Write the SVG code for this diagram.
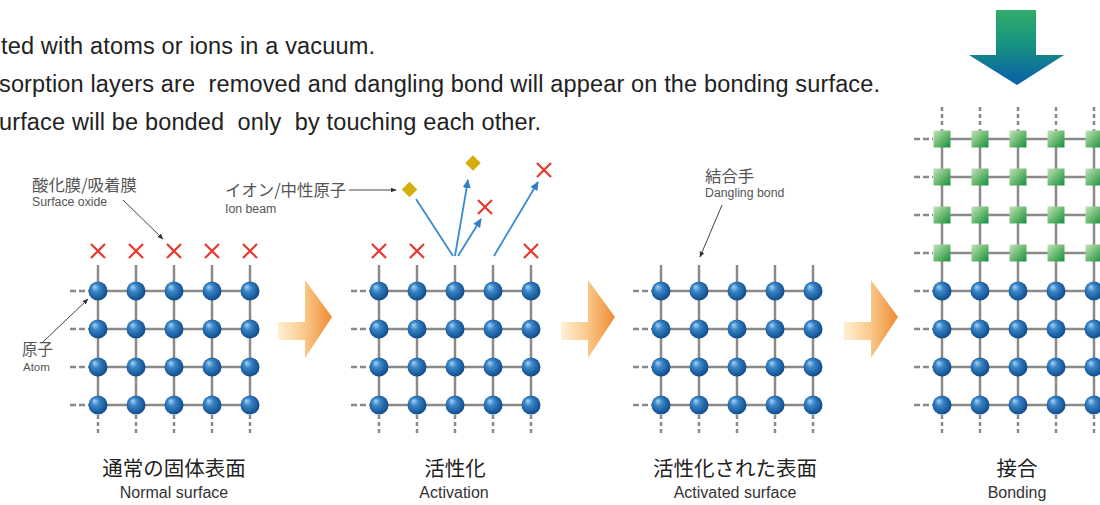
<svg xmlns="http://www.w3.org/2000/svg" xmlns:xlink="http://www.w3.org/1999/xlink" width="1100" height="505" viewBox="0 0 1100 505">
  <style>
    .lead { font-family: "Liberation Sans", Arial, sans-serif; font-size: 23.5px; fill: #222; white-space: pre; }
    .jp { font-family: "Noto Sans CJK JP", sans-serif; fill: #555; }
    .en { font-family: "Liberation Sans", Arial, sans-serif; fill: #555; }
    .cap-jp { font-family: "Noto Sans CJK JP", sans-serif; font-size: 20.5px; fill: #222; text-anchor: middle; }
    .cap-en { font-family: "Liberation Sans", Arial, sans-serif; font-size: 16px; fill: #333; text-anchor: middle; }
    .bond { stroke: #8a8a8a; stroke-width: 2.5; fill: none; }
    .dash-h { stroke: #8a8a8a; stroke-width: 2.5; fill: none; stroke-dasharray: 6 3; }
    .dash-v { stroke: #8a8a8a; stroke-width: 2.5; fill: none; stroke-dasharray: 4 3; }
    .cross { stroke: #e8382f; stroke-width: 2.2; fill: none; }
    .pointer { stroke: #444; stroke-width: 1; fill: none; marker-end: url(#tip-dark); }
    .beam { stroke: #3a8ad2; stroke-width: 1.8; fill: none; }
    .beam-out { stroke: #3a8ad2; stroke-width: 1.8; fill: none; marker-end: url(#tip-blue); }
  </style>
  <defs>
    <radialGradient id="atom-shade" cx="45%" cy="45%" r="60%" fx="32%" fy="28%">
      <stop offset="0" stop-color="#a9d2f2"/>
      <stop offset="0.35" stop-color="#3a86c8"/>
      <stop offset="1" stop-color="#0b4686"/>
    </radialGradient>
    <linearGradient id="square-shade" x1="0" y1="0" x2="1" y2="1">
      <stop offset="0" stop-color="#c4e2bd"/>
      <stop offset="0.5" stop-color="#6dbb72"/>
      <stop offset="1" stop-color="#138f3e"/>
    </linearGradient>
    <linearGradient id="push-shade" x1="0" y1="0" x2="1" y2="0">
      <stop offset="0" stop-color="#fff0d2"/>
      <stop offset="0.5" stop-color="#f9c88a"/>
      <stop offset="1" stop-color="#ef8a32"/>
    </linearGradient>
    <linearGradient id="press-shade" x1="0" y1="0" x2="0" y2="1">
      <stop offset="0" stop-color="#33ad6c"/>
      <stop offset="0.45" stop-color="#169381"/>
      <stop offset="1" stop-color="#0a5ea8"/>
    </linearGradient>
    <marker id="tip-dark" viewBox="0 0 10 10" refX="9" refY="5" markerWidth="6" markerHeight="6" orient="auto" markerUnits="userSpaceOnUse">
      <path d="M0 1L10 5L0 9Z" fill="#333"/>
    </marker>
    <marker id="tip-blue" viewBox="0 0 10 10" refX="9" refY="5" markerWidth="9" markerHeight="9" orient="auto" markerUnits="userSpaceOnUse">
      <path d="M0 0.5L10 5L0 9.5Z" fill="#2f7fc8"/>
    </marker>
    <circle id="atom" r="9.5" fill="url(#atom-shade)"/>
    <rect id="cell" x="-8.5" y="-8.5" width="17" height="17" fill="url(#square-shade)"/>
    <path id="x-mark" class="cross" d="M-7 -7L7 7M7 -7L-7 7"/>
    <path id="push" d="M0 23H27V-19L54 18L27 59V41H0Z" fill="url(#push-shade)"/>
    <!-- 5 x 4 crystal block: bonds, broken edges and atoms -->
    <g id="lattice">
      <path class="bond" d="M98 291H250M98 329H250M98 367H250M98 405H250M98 291V405M136 291V405M174 291V405M212 291V405M250 291V405"/>
      <path class="dash-h" d="M70 291H89M70 329H89M70 367H89M70 405H89"/>
      <path class="dash-v" d="M98 415V434M136 415V434M174 415V434M212 415V434M250 415V434"/>
      <use href="#atom" x="98" y="291"/><use href="#atom" x="136" y="291"/><use href="#atom" x="174" y="291"/><use href="#atom" x="212" y="291"/><use href="#atom" x="250" y="291"/>
      <use href="#atom" x="98" y="329"/><use href="#atom" x="136" y="329"/><use href="#atom" x="174" y="329"/><use href="#atom" x="212" y="329"/><use href="#atom" x="250" y="329"/>
      <use href="#atom" x="98" y="367"/><use href="#atom" x="136" y="367"/><use href="#atom" x="174" y="367"/><use href="#atom" x="212" y="367"/><use href="#atom" x="250" y="367"/>
      <use href="#atom" x="98" y="405"/><use href="#atom" x="136" y="405"/><use href="#atom" x="174" y="405"/><use href="#atom" x="212" y="405"/><use href="#atom" x="250" y="405"/>
    </g>
    <path id="stubs" class="bond" d="M98 265V291M136 265V291M174 265V291M212 265V291M250 265V291"/>
  </defs>

  <rect width="1100" height="505" fill="#ffffff"/>

  <!-- explanatory lines -->
  <g id="intro">
    <text class="lead" x="1" y="54" textLength="374" lengthAdjust="spacing">ted with atoms or ions in a vacuum.</text>
    <text class="lead" x="-1" y="92" textLength="881" lengthAdjust="spacing">sorption layers are  removed and dangling bond will appear on the bonding surface.</text>
    <text class="lead" x="-1" y="130" textLength="542" lengthAdjust="spacing">urface will be bonded  only  by touching each other.</text>
  </g>

  <!-- stage 1: normal surface -->
  <g id="normal-surface">
    <use href="#stubs"/>
    <use href="#lattice"/>
    <use href="#x-mark" x="98" y="251"/><use href="#x-mark" x="136" y="251"/><use href="#x-mark" x="174" y="251"/><use href="#x-mark" x="212" y="251"/><use href="#x-mark" x="250" y="251"/>
    <text class="jp" x="32" y="191" font-size="16.4">酸化膜/吸着膜</text>
    <text class="en" x="32" y="206" font-size="12.3">Surface oxide</text>
    <text class="jp" x="22" y="355" font-size="15.5">原子</text>
    <text class="en" x="23" y="371" font-size="11.5">Atom</text>
    <text class="cap-jp" x="174" y="476">通常の固体表面</text>
    <text class="cap-en" x="174" y="498">Normal surface</text>
  </g>

  <g id="step-1">
    <use href="#push" x="278" y="299"/>
  </g>

  <!-- stage 2: activation -->
  <g id="activation">
    <use href="#stubs" transform="translate(281,0)"/>
    <use href="#lattice" transform="translate(281,0)"/>
    <use href="#x-mark" x="379" y="251"/><use href="#x-mark" x="417" y="251"/><use href="#x-mark" x="531" y="251"/>
    <use href="#x-mark" x="485" y="207"/><use href="#x-mark" x="544" y="170"/>
    <rect x="404" y="184" width="11" height="11" fill="#d4ae0c" transform="rotate(45 409.5 189.5)"/>
    <rect x="467.5" y="157.5" width="11" height="11" fill="#d4ae0c" transform="rotate(45 473 163)"/>
    <text class="jp" x="225" y="196" font-size="16.4">イオン/中性原子</text>
    <text class="en" x="225" y="213" font-size="12.3">Ion beam</text>
    <text class="cap-jp" x="455" y="476">活性化</text>
    <text class="cap-en" x="454" y="498">Activation</text>
  </g>

  <g id="step-2">
    <use href="#push" x="561" y="299"/>
  </g>

  <!-- stage 3: activated surface -->
  <g id="activated-surface">
    <use href="#stubs" transform="translate(563,0)"/>
    <use href="#lattice" transform="translate(563,0)"/>
    <text class="jp" x="705" y="182" font-size="16.4">結合手</text>
    <text class="en" x="705" y="197" font-size="12.3">Dangling bond</text>
    <text class="cap-jp" x="735" y="476">活性化された表面</text>
    <text class="cap-en" x="735" y="498">Activated surface</text>
  </g>

  <g id="step-3">
    <use href="#push" x="844" y="299"/>
  </g>

  <!-- stage 4: bonding -->
  <g id="bonding">
    <path d="M996 10H1036V55H1064L1017 85L969 55H996Z" fill="url(#press-shade)"/>
    <path class="bond" d="M942 129V291M980 129V291M1018 129V291M1056 129V291M1094 129V291M942 139H1100M942 177H1100M942 215H1100M942 253H1100"/>
    <path class="dash-v" d="M942 107V127M980 107V127M1018 107V127M1056 107V127M1094 107V127"/>
    <path class="dash-h" d="M914 139H933M914 177H933M914 215H933M914 253H933"/>
    <use href="#lattice" transform="translate(844,0)"/>
    <use href="#cell" x="942" y="139"/><use href="#cell" x="980" y="139"/><use href="#cell" x="1018" y="139"/><use href="#cell" x="1056" y="139"/><use href="#cell" x="1094" y="139"/>
    <use href="#cell" x="942" y="177"/><use href="#cell" x="980" y="177"/><use href="#cell" x="1018" y="177"/><use href="#cell" x="1056" y="177"/><use href="#cell" x="1094" y="177"/>
    <use href="#cell" x="942" y="215"/><use href="#cell" x="980" y="215"/><use href="#cell" x="1018" y="215"/><use href="#cell" x="1056" y="215"/><use href="#cell" x="1094" y="215"/>
    <use href="#cell" x="942" y="253"/><use href="#cell" x="980" y="253"/><use href="#cell" x="1018" y="253"/><use href="#cell" x="1056" y="253"/><use href="#cell" x="1094" y="253"/>
    <text class="cap-jp" x="1017" y="476">接合</text>
    <text class="cap-en" x="1017" y="498">Bonding</text>
  </g>

  <!-- leader lines and particle paths -->
  <g id="connectors">
    <path class="pointer" d="M123 200L163 239"/>
    <path class="pointer" d="M43 342L88 299"/>
    <path class="pointer" d="M349 190H396"/>
    <path class="pointer" d="M722 205L700 257"/>
    <path class="beam" d="M416 199L453 256"/>
    <path class="beam-out" d="M455 256L468 180"/>
    <path class="beam-out" d="M458 256L481 219"/>
    <path class="beam-out" d="M494 256L538 182"/>
  </g>
</svg>
